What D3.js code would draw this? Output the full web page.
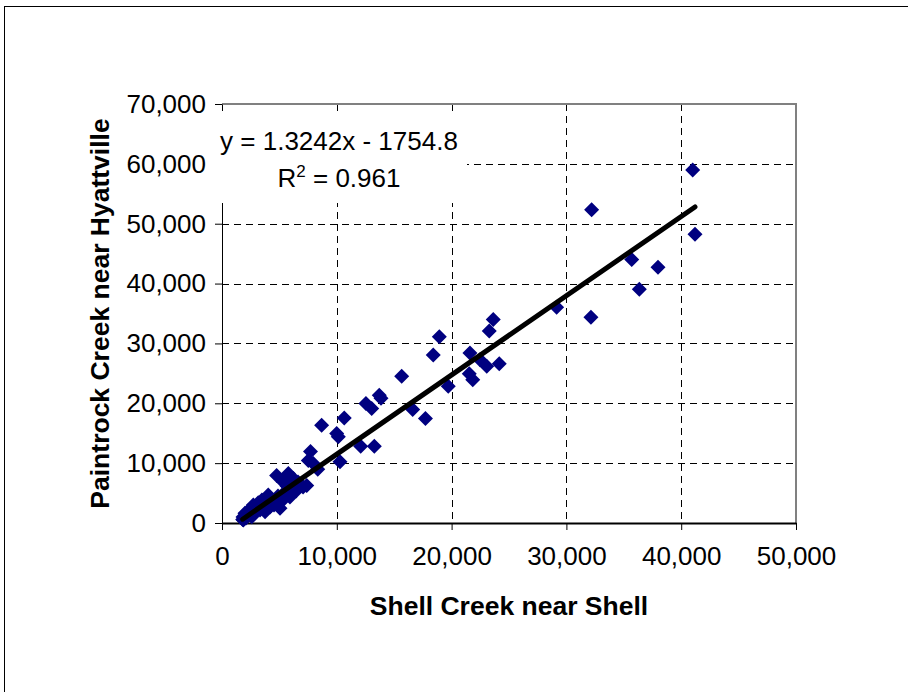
<!DOCTYPE html>
<html>
<head>
<meta charset="utf-8">
<script src="https://cdn.jsdelivr.net/npm/d3@7"></script>
<style>
  html, body { margin: 0; padding: 0; background: #fff; }
  svg { display: block; font-family: "Liberation Sans", Arial, sans-serif; }
</style>
</head>
<body>
<div id="chart"></div>
<script>
// Annual flow pairs: Shell Creek near Shell (x) vs Paintrock Creek near Hyattville (y)
const shellFlow = [
  41000, 41200, 32200, 32140, 35690, 37980, 36350, 29150, 23630, 23280,
  18930, 18400, 21600, 22470, 23060, 24150, 21540, 21840, 19710, 15650,
  13700, 13850, 12540, 13040, 16610, 17720, 10650, 8680, 9990, 10130,
  12080, 13270, 10280, 7710, 7520, 7950, 8340, 7380,
  5780, 4760, 6210, 5340, 6620, 7060, 5920, 6450, 5490, 4030,
  4880, 5920, 5310, 4620, 3480, 3160, 2730, 5050, 4180, 3750,
  3310, 2590, 2000, 2260, 1830, 1860, 1800, 2090, 2870, 4530,
  5660, 3830
];
const paintrockFlow = [
  58960, 48260, 52340, 34380, 44010, 42730, 39060, 36060, 34010, 32090,
  31120, 28060, 28390, 27290, 26170, 26620, 24950, 23950, 22840, 24500,
  21340, 20840, 19950, 19120, 18950, 17450, 17550, 16340, 14950, 14390,
  12840, 12840, 10220, 11950, 10450, 9950, 9000, 6250,
  8290, 7920, 7450, 6830, 6830, 6000, 5830, 5330, 5170, 4670,
  4500, 4330, 3830, 3550, 3830, 3380, 3000, 2450, 2670, 1880,
  2170, 1050, 1620, 2000, 1000, 500, 580, 830, 1670, 3000,
  6170, 3170
];

// Linear trend fitted to the pairs
const trendSlope = 1.3242;
const trendIntercept = -1754.8;
const trendR2 = 0.961;

const xTicks = [0, 10000, 20000, 30000, 40000, 50000];
const yTicks = [0, 10000, 20000, 30000, 40000, 50000, 60000, 70000];

const xTitle = "Shell Creek near Shell";
const yTitle = "Paintrock Creek near Hyattville";

const W = 908, H = 692;
const plot = { left: 222, right: 796, top: 104, bottom: 523 };

const svg = d3.select("#chart").append("svg")
  .attr("width", W).attr("height", H);

// chart frame
svg.append("rect")
  .attr("x", 4.5).attr("y", 6.5)
  .attr("width", 1000).attr("height", 1000)
  .attr("fill", "#fff").attr("stroke", "#000").attr("stroke-width", 1);

const x = d3.scaleLinear().domain([0, 50000]).range([plot.left, plot.right]);
const y = d3.scaleLinear().domain([0, 70000]).range([plot.bottom, plot.top]);

const fmt = d3.format(",");

// gridlines
const grid = svg.append("g").attr("stroke", "#000").attr("stroke-width", 1)
  .attr("stroke-dasharray", "7,5").attr("shape-rendering", "crispEdges");
grid.selectAll("line.gx").data(xTicks.slice(1, -1)).join("line")
  .attr("x1", d => Math.round(x(d)) + 0.5).attr("x2", d => Math.round(x(d)) + 0.5)
  .attr("y1", plot.top).attr("y2", plot.bottom);
grid.selectAll("line.gy").data(yTicks.slice(1, -1)).join("line")
  .attr("y1", d => Math.round(y(d)) + 0.5).attr("y2", d => Math.round(y(d)) + 0.5)
  .attr("x1", plot.left).attr("x2", plot.right);

// plot-area border (top and right)
svg.append("path")
  .attr("d", `M${plot.left},${plot.top}H${plot.right}V${plot.bottom}`)
  .attr("fill", "none").attr("stroke", "#808080").attr("stroke-width", 2);

// axes
const xAxis = d3.axisBottom(x).tickValues(xTicks).tickFormat(fmt)
  .tickSizeInner(7).tickSizeOuter(0).tickPadding(17);
const yAxis = d3.axisLeft(y).tickValues(yTicks).tickFormat(fmt)
  .tickSizeInner(7).tickSizeOuter(0).tickPadding(9);

const gx = svg.append("g").attr("transform", `translate(0,${plot.bottom})`).call(xAxis);
const gy = svg.append("g").attr("transform", `translate(${plot.left},0)`).call(yAxis);
[gx, gy].forEach(g => {
  g.selectAll("path, line").attr("stroke", "#000").attr("stroke-width", 1);
  g.selectAll("text").attr("font-size", 26).attr("fill", "#000")
    .attr("font-family", "'Liberation Sans', Arial, sans-serif");
});
gx.select(".domain").attr("stroke-width", 2);

// points
const pts = shellFlow.map((v, i) => ({ x: v, y: paintrockFlow[i] }));
const r = 7.5;
svg.append("g").selectAll("path").data(pts).join("path")
  .attr("d", d => {
    const cx = x(d.x), cy = y(d.y);
    return `M${cx},${cy - r}L${cx + r},${cy}L${cx},${cy + r}L${cx - r},${cy}Z`;
  })
  .attr("fill", "#000080");

// trend line
const xExt = d3.extent(shellFlow);
svg.append("line")
  .attr("x1", x(xExt[0])).attr("y1", y(trendSlope * xExt[0] + trendIntercept))
  .attr("x2", x(xExt[1])).attr("y2", y(trendSlope * xExt[1] + trendIntercept))
  .attr("stroke", "#000").attr("stroke-width", 5).attr("stroke-linecap", "round");

// equation label
svg.append("rect")
  .attr("x", 211).attr("y", 111).attr("width", 256).attr("height", 92)
  .attr("fill", "#fff");
const eqX = 339;
svg.append("text").attr("x", eqX).attr("y", 150).attr("text-anchor", "middle")
  .attr("font-size", 26)
  .text(`y = ${trendSlope}x - ${Math.abs(trendIntercept)}`);
const r2 = svg.append("text").attr("x", eqX).attr("y", 187).attr("text-anchor", "middle")
  .attr("font-size", 26);
r2.append("tspan").text("R");
r2.append("tspan").attr("font-size", 17).attr("dy", -10).text("2");
r2.append("tspan").attr("dy", 10).text(` = ${trendR2}`);

// axis titles
svg.append("text").attr("x", (plot.left + plot.right) / 2).attr("y", 615)
  .attr("text-anchor", "middle").attr("font-size", 26.5).attr("font-weight", "bold")
  .text(xTitle);
svg.append("text")
  .attr("transform", `translate(109,${(plot.top + plot.bottom) / 2}) rotate(-90)`)
  .attr("text-anchor", "middle").attr("font-size", 26.5).attr("font-weight", "bold")
  .text(yTitle);
</script>
</body>
</html>
